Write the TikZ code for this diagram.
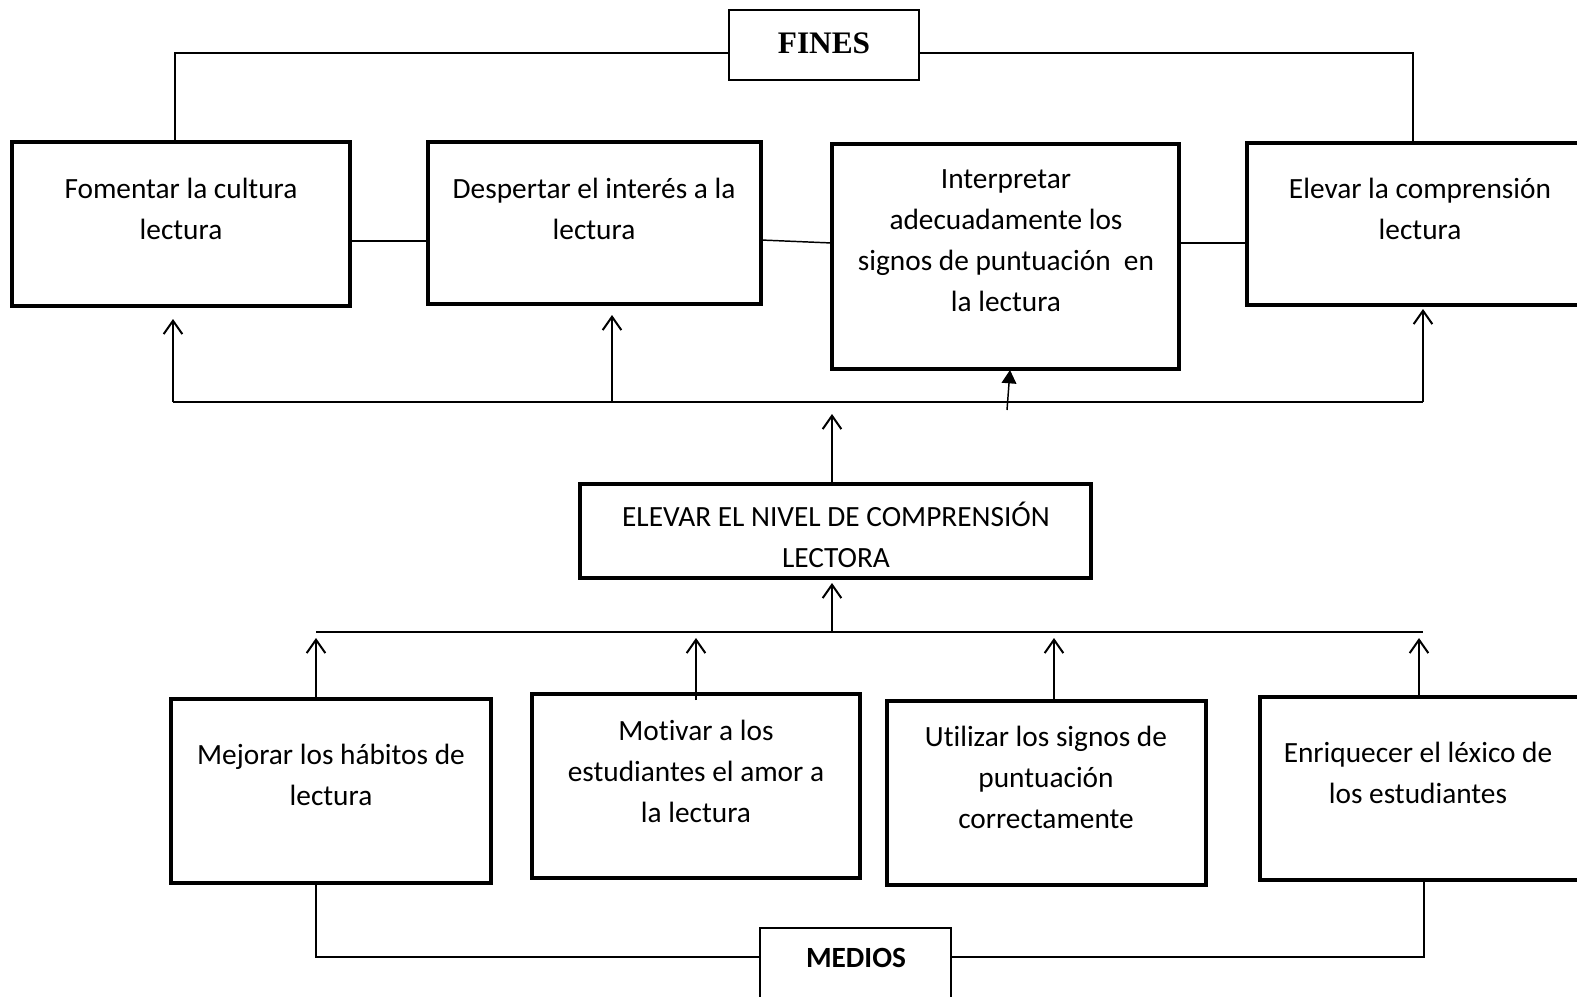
\documentclass[tikz,border=0pt]{standalone}
\usepackage{fontspec}
\setmainfont{Carlito}[Ligatures=NoCommon]
\newfontfamily\timesf{Liberation Serif}
\usetikzlibrary{arrows.meta,fit}
\begin{document}
\begin{tikzpicture}[x=0.75pt,y=-0.75pt,
 boxthick/.style={draw,line width=3pt,inner sep=0pt},
 boxthin/.style={draw,line width=1pt,inner sep=0pt},
 txt/.style={align=center,font=\fontsize{22}{30.75}\selectfont,inner sep=0pt},
 conn/.style={line width=1.1pt},
 arr/.style={line width=1.1pt,-{Straight Barb[length=10pt,width=14pt,line width=1.5pt]}},
 farr/.style={line width=1.1pt,-{Triangle[length=10pt,width=11pt]}}]
\useasboundingbox (0,0) rectangle (1577,996);
\fill[white] (0,0) rectangle (1577,996);
% boxes
\node[boxthin, fit={(729,10)(919,80)}] (fines) {};
\node[font=\timesf\bfseries\fontsize{23.5}{28}\selectfont,inner sep=0pt] (finest) at (824,43) {FINES};
\node[boxthick, fit={(12,142)(350,306)}] (b1) {};
\node[boxthick, fit={(428,142)(761,304)}] (b2) {};
\node[boxthick, fit={(832,144)(1179,369)}] (b3) {};
\node[boxthick, fit={(1247,143)(1600,305)}] (b4) {};
\node[boxthick, fit={(580,484)(1091,578)}] (el) {};
\node[boxthick, fit={(171,699)(491,883)}] (b5) {};
\node[boxthick, fit={(532,694)(860,878)}] (b6) {};
\node[boxthick, fit={(887,701)(1206,885)}] (b7) {};
\node[boxthick, fit={(1260,697)(1600,880)}] (b8) {};
\node[boxthin, fit={(760,928)(951,1010)}] (medios) {};
\node[font=\bfseries\fontsize{22}{26}\selectfont,inner sep=0pt] (mediost) at (856,958) {MEDIOS};
% texts
\node[txt] (b1t) at (181,209) {Fomentar la cultura\\lectura};
\node[txt] (b2t) at (594,209) {Despertar el interés a la\\lectura};
\node[txt] (b3t) at (1006,241) {Interpretar\\adecuadamente los\\signos de puntuación\ \ en\\la lectura};
\node[txt] (b4t) at (1420,209) {Elevar la comprensión\\lectura};
\node[txt] (elt) at (836,535) {ELEVAR EL NIVEL DE COMPRENSIÓN\\LECTORA};
\node[txt] (b5t) at (331,775) {Mejorar los hábitos de\\lectura};
\node[txt] (b6t) at (696,771) {Motivar a los\\estudiantes el amor a\\la lectura};
\node[txt] (b7t) at (1046,777) {Utilizar los signos de\\puntuación\\correctamente};
\node[txt] (b8t) at (1418,773) {Enriquecer el léxico de\\los estudiantes};
% coordinates
\coordinate (fl) at (729,53);
\coordinate (fr) at (919,53);
\coordinate (t1) at (175,142);
\coordinate (t4) at (1413,143);
\coordinate (h1a) at (350,241); \coordinate (h1b) at (428,241);
\coordinate (h2a) at (761,240); \coordinate (h2b) at (832,243);
\coordinate (h3a) at (1179,243); \coordinate (h3b) at (1247,243);
\coordinate (ul) at (173,402); \coordinate (ur) at (1423,402);
\coordinate (u2) at (612,402);
\coordinate (a1) at (173,319); \coordinate (a2) at (612,315); \coordinate (a4) at (1423,309);
\coordinate (fa0) at (1007,410); \coordinate (fa1) at (1010,370);
\coordinate (ea) at (832,414);
\coordinate (ll) at (316,632); \coordinate (lr) at (1423,632);
\coordinate (lm) at (832,632); \coordinate (lma) at (832,583);
\coordinate (p5) at (316,699); \coordinate (q5) at (316,638);
\coordinate (p6) at (696,700); \coordinate (q6) at (696,638);
\coordinate (p7) at (1054,701); \coordinate (q7) at (1054,638);
\coordinate (p8) at (1419,697); \coordinate (q8) at (1419,638);
\coordinate (ml) at (760,957); \coordinate (mr) at (951,957);
\coordinate (bb5) at (316,883); \coordinate (bb8) at (1424,880);
% connectors
\draw[conn] (fl) -| (t1);
\draw[conn] (fr) -| (t4);
\draw[conn] (h1a) -- (h1b);
\draw[conn] (h2a) -- (h2b);
\draw[conn] (h3a) -- (h3b);
\draw[conn] (ul) -- (ur);
\draw[arr] (ul) -- (a1);
\draw[arr] (u2) -- (a2);
\draw[arr] (ur) -- (a4);
\draw[farr] (fa0) -- (fa1);
\draw[arr] (el.north -| ea) -- (ea);
\draw[conn] (ll) -- (lr);
\draw[arr] (lm) -- (lma);
\draw[arr] (p5) -- (q5);
\draw[arr] (p6) -- (q6);
\draw[arr] (p7) -- (q7);
\draw[arr] (p8) -- (q8);
\draw[conn] (ml) -| (bb5);
\draw[conn] (mr) -| (bb8);
\end{tikzpicture}
\end{document}
